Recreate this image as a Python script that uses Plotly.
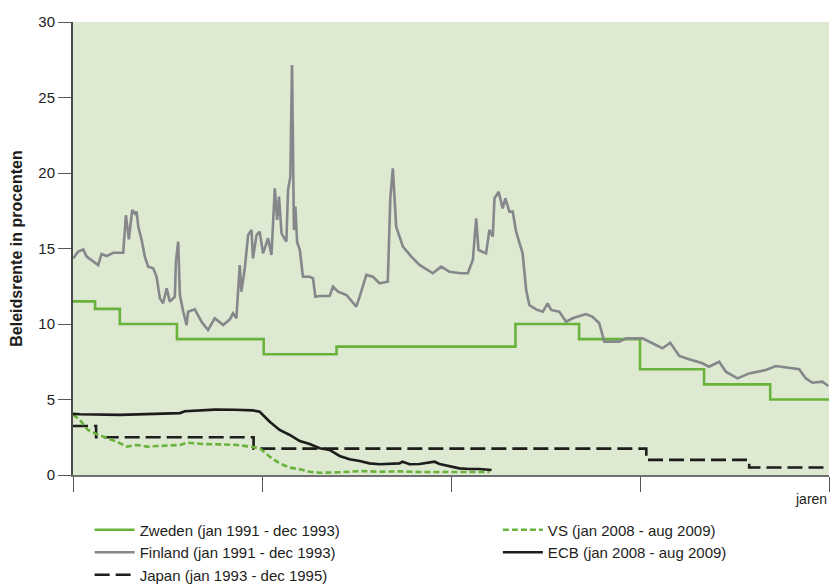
import plotly.graph_objects as go

# ---- data (x = months since start of each episode) ----
zweden_m = [0, 1.05, 2.23, 4.95, 9.08, 12.55, 21.07, 24.1, 27.0, 30.05, 33.2, 36]
zweden_v = [11.5, 11.0, 10.0, 9.0, 8.0, 8.5, 10.0, 9.0, 7.0, 6.0, 5.0, 5.0]

japan_m = [0, 1.1, 8.6, 27.3, 32.2, 36]
japan_v = [3.25, 2.5, 1.75, 1.0, 0.5, 0.5]

finland_m = [0.01, 0.25, 0.49, 0.65, 1.20, 1.36, 1.60, 1.92, 2.39, 2.52, 2.66, 2.82, 2.95, 3.03,
             3.11, 3.27, 3.42, 3.58, 3.82, 3.98, 4.14, 4.29, 4.46, 4.61, 4.85, 4.90, 5.01, 5.09,
             5.25, 5.41, 5.48, 5.80, 6.12, 6.43, 6.75, 7.15, 7.47, 7.62, 7.78, 7.94, 8.02, 8.18,
             8.34, 8.50, 8.57, 8.74, 8.89, 9.05, 9.29, 9.45, 9.61, 9.72, 9.81, 9.93, 10.16, 10.24,
             10.35, 10.43, 10.52, 10.59, 10.67, 10.80, 10.95, 11.27, 11.43, 11.54, 11.75, 12.22,
             12.38, 12.62, 13.02, 13.49, 13.65, 13.89, 13.97, 14.28, 14.60, 14.99, 15.11, 15.23,
             15.33, 15.39, 15.71, 16.11, 16.50, 17.13, 17.53, 17.93, 18.48, 18.80, 19.04, 19.20,
             19.31, 19.67, 19.83, 19.99, 20.07, 20.27, 20.46, 20.59, 20.78, 20.94, 21.10, 21.41,
             21.58, 21.73, 22.05, 22.37, 22.60, 22.77, 23.16, 23.48, 23.79, 24.43, 24.74, 25.06,
             25.30, 26.01, 26.33, 27.12, 27.76, 28.07, 28.44, 28.87, 29.34, 29.97, 30.29, 30.77,
             31.09, 31.64, 32.20, 32.99, 33.47, 34.10, 34.58, 34.89, 35.21, 35.68, 35.97]
finland_v = [14.35, 14.79, 14.94, 14.46, 13.9, 14.64, 14.5, 14.72, 14.72, 17.2, 15.6, 17.55, 17.3, 17.44,
             16.44, 15.56, 14.46, 13.8, 13.69, 13.13, 11.7, 11.37, 12.36, 11.48, 11.81, 14.13, 15.45, 11.92,
             10.81, 9.93, 10.81, 10.97, 10.15, 9.6, 10.38, 9.93, 10.31, 10.71, 10.38, 13.9, 12.14, 13.69,
             15.89, 16.23, 14.35, 15.89, 16.11, 14.68, 15.68, 14.57, 18.99, 16.89, 18.43, 16.0, 15.45, 18.87,
             19.76, 27.15, 16.23, 17.77, 15.45, 14.9, 13.13, 13.13, 13.02, 11.81, 11.85, 11.85,
             12.47, 12.14, 11.92, 11.15, 11.81, 12.91, 13.25, 13.13, 12.7, 12.8, 18.32, 20.31,
             17.33, 16.44, 15.12, 14.46, 13.91, 13.36, 13.8, 13.46, 13.36, 13.36, 14.24, 17.0,
             14.9, 14.68, 16.23, 15.78, 18.32, 18.76, 17.66, 18.32, 17.44, 17.44, 16.11, 14.68,
             12.25, 11.26, 10.97, 10.81, 11.37, 10.93, 10.81, 10.15, 10.38, 10.66, 10.48, 10.05,
             8.83, 8.83, 9.05, 9.05, 8.61, 8.39, 8.76, 7.88, 7.66, 7.4, 7.17, 7.5,
             6.84, 6.4, 6.73, 6.95, 7.22, 7.07, 7.0, 6.4, 6.11, 6.18, 5.89]

vs_m = [0, 0.33, 0.71, 1.14, 1.62, 2.09, 2.57, 3.04, 3.52, 4.28, 5.09, 5.42, 6.18, 6.99, 7.80,
        8.42, 8.89, 9.37, 9.84, 10.32, 10.80, 11.27, 11.75, 12.70, 13.65, 14.60, 15.55, 16.50,
        17.45, 18.40, 19.83]
vs_v = [4.0, 3.64, 2.98, 2.7, 2.45, 2.2, 1.88, 1.99, 1.88, 1.92, 1.99, 2.14, 2.05, 2.03, 1.99,
        1.88, 1.77, 1.21, 0.77, 0.49, 0.38, 0.22, 0.15, 0.18, 0.26, 0.22, 0.24, 0.2,
        0.2, 0.18, 0.2]

ecb_m = [0, 0.33, 2.24, 3.66, 5.09, 5.33, 6.04, 6.75, 7.70, 8.56, 8.89, 9.37, 9.84, 10.32, 10.80,
         11.27, 11.75, 12.22, 12.70, 13.17, 13.65, 14.12, 14.60, 15.08, 15.55, 15.69, 16.03,
         16.50, 16.98, 17.22, 17.45, 17.93, 18.40, 18.88, 19.36, 19.93]
ecb_v = [4.05, 4.02, 3.98, 4.02, 4.1, 4.22, 4.27, 4.33, 4.32, 4.28, 4.19, 3.53, 2.98, 2.65, 2.25,
         2.05, 1.77, 1.66, 1.26, 1.04, 0.93, 0.77, 0.71, 0.73, 0.77, 0.88, 0.71,
         0.73, 0.82, 0.88, 0.73, 0.6, 0.44, 0.4, 0.4, 0.33]

x_ticks = [0, 9, 18, 27, 36]
y_ticks = [0, 5, 10, 15, 20, 25, 30]

GREEN = "#69b33c"
GRAY = "#86878b"
BLACK = "#1d1d1b"
FONT = "Liberation Sans, Arial, sans-serif"

fig = go.Figure()
fig.add_trace(go.Scatter(x=zweden_m, y=zweden_v, mode="lines", line_shape="hv",
                         name="Zweden (jan 1991 - dec 1993)",
                         line=dict(color=GREEN, width=2.6), legend="legend"))
fig.add_trace(go.Scatter(x=finland_m, y=finland_v, mode="lines",
                         name="Finland (jan 1991 - dec 1993)",
                         line=dict(color=GRAY, width=2.6), legend="legend"))
fig.add_trace(go.Scatter(x=japan_m, y=japan_v, mode="lines", line_shape="hv",
                         name="Japan (jan 1993 - dec 1995)",
                         line=dict(color=BLACK, width=2.6, dash="15px,6px"), legend="legend"))
fig.add_trace(go.Scatter(x=vs_m, y=vs_v, mode="lines",
                         name="VS (jan 2008 - aug 2009)",
                         line=dict(color=GREEN, width=2.6, dash="6px,3px"), legend="legend2"))
fig.add_trace(go.Scatter(x=ecb_m, y=ecb_v, mode="lines",
                         name="ECB (jan 2008 - aug 2009)",
                         line=dict(color=BLACK, width=2.6), legend="legend2"))

legend_common = dict(orientation="v", bgcolor="rgba(0,0,0,0)", borderwidth=0,
                     font=dict(family=FONT, size=15, color="#1d1d1b"),
                     xanchor="left", yanchor="top", tracegroupgap=0, itemwidth=40)

fig.update_layout(
    width=830, height=585,
    margin=dict(l=73, r=1, t=22, b=110, autoexpand=False),
    paper_bgcolor="white",
    plot_bgcolor="#dde9d0",
    font=dict(family=FONT, size=15, color="#222222"),
    xaxis=dict(range=[0, 36], tickvals=x_ticks, showticklabels=False,
               ticks="outside", ticklen=15, tickwidth=1.2, tickcolor="#555555",
               showline=True, linecolor="#707070", linewidth=2,
               showgrid=False, zeroline=False),
    yaxis=dict(range=[0, 30], tickvals=y_ticks,
               ticks="outside", ticklen=13, tickwidth=1.2, tickcolor="#555555",
               showline=True, linecolor="#4a4a4a", linewidth=2,
               showgrid=False, zeroline=False,
               tickfont=dict(family=FONT, size=15, color="#222222"),
               title=dict(text="<b>Beleidsrente in procenten</b>",
                          font=dict(family=FONT, size=16, color="#1d1d1b"),
                          standoff=12)),
    legend=dict(x=0.022, y=-0.085, **legend_common),
    legend2=dict(x=0.562, y=-0.085, **legend_common),
    annotations=[dict(text="jaren", xref="paper", yref="paper", x=1, y=-0.03,
                      xanchor="right", yanchor="top", showarrow=False,
                      font=dict(family=FONT, size=14, color="#1d1d1b"))],
)

fig.write_html("out.html", config={"displayModeBar": False},
               post_script="document.body.style.margin='0';document.body.style.padding='0';"
                           "document.body.style.overflow='hidden';")
